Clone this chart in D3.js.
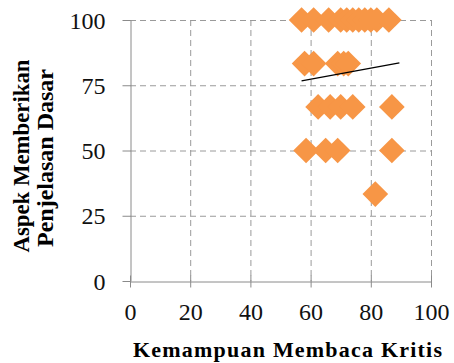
<!DOCTYPE html>
<html>
<head>
<meta charset="utf-8">
<script src="https://cdn.jsdelivr.net/npm/d3@7/dist/d3.min.js"></script>
<style>
  html, body { margin: 0; padding: 0; background: #fff; }
  svg { display: block; }
</style>
</head>
<body>
<svg id="chart" width="454" height="363"></svg>
<script>
// Scores: reading ability (x) vs. basic-explanation aspect (y)
const xValues = [57, 61, 66, 70, 72, 74, 76, 78, 80, 82, 86,
                 58, 61, 69, 71, 72.5,
                 62.5, 66.5, 70, 74, 87,
                 58.5, 65, 69, 87,
                 81.5];
const yValues = [100, 100, 100, 100, 100, 100, 100, 100, 100, 100, 100,
                 83.3, 83.3, 83.3, 83.3, 83.3,
                 66.7, 66.7, 66.7, 66.7, 66.7,
                 50, 50, 50, 50,
                 33.3];
const trendX = [57, 89.5];
const trendY = [76.7, 83.6];
const xTicks = [0, 20, 40, 60, 80, 100];
const yTicks = [0, 25, 50, 75, 100];
const xTitle = "Kemampuan Membaca Kritis";
const yTitle = ["Aspek Memberikan", "Penjelasan Dasar"];

const svg = d3.select("#chart");
const plotL = 130, plotR = 431, plotT = 20, plotB = 281;

const x = d3.scaleLinear().domain([0, 100]).range([plotL, plotR]);
const y = d3.scaleLinear().domain([0, 100]).range([plotB, plotT]);

const serif = "'Liberation Serif', 'Times New Roman', serif";

// dashed grid
const grid = svg.append("g").attr("stroke", "#9a9a9a").attr("stroke-width", 1)
  .attr("stroke-dasharray", "6,4");
grid.selectAll("line.v").data(xTicks.filter(d => d > 0)).join("line")
  .attr("x1", d => x(d) + 0.5).attr("x2", d => x(d) + 0.5)
  .attr("y1", plotT).attr("y2", plotB);
grid.selectAll("line.h").data(yTicks.filter(d => d > 0)).join("line")
  .attr("y1", d => y(d) + 0.5).attr("y2", d => y(d) + 0.5)
  .attr("x1", plotL).attr("x2", plotR);

// axes
const xAxis = svg.append("g").attr("transform", `translate(0,${plotB + 0.5})`)
  .call(d3.axisBottom(x).tickValues(xTicks).tickSizeInner(7).tickSizeOuter(0).tickPadding(14));
xAxis.selectAll(".tick line").attr("y1", -6).attr("y2", 6);
const yAxis = svg.append("g").attr("transform", `translate(${plotL + 0.5},0)`)
  .call(d3.axisLeft(y).tickValues(yTicks).tickSizeInner(8).tickSizeOuter(0).tickPadding(17));

[xAxis, yAxis].forEach(a => {
  a.select(".domain").attr("stroke", "#8a8a8a");
  a.selectAll(".tick line").attr("stroke", "#8a8a8a");
  a.selectAll(".tick text").attr("fill", "#111").style("font-family", serif).style("font-size", "24px");
});
xAxis.selectAll(".tick text").attr("dy", "0.71em");
yAxis.selectAll(".tick text").attr("dy", "0.34em");

// points
const pts = d3.range(xValues.length).map(i => ({ x: xValues[i], y: yValues[i] }));
const diamond = d3.symbol().type(d3.symbolSquare).size(330);
svg.append("g").selectAll("path").data(pts).join("path")
  .attr("d", diamond)
  .attr("transform", d => `translate(${x(d.x)},${y(d.y)}) rotate(45)`)
  .attr("fill", "#F79646");

// linear trend
svg.append("line")
  .attr("x1", x(trendX[0])).attr("y1", y(trendY[0]))
  .attr("x2", x(trendX[1])).attr("y2", y(trendY[1]))
  .attr("stroke", "#000").attr("stroke-width", 1.3);

// titles
svg.append("text")
  .attr("x", 133).attr("y", 357)
  .attr("textLength", 309).attr("lengthAdjust", "spacing")
  .style("font-family", serif).style("font-weight", "bold").style("font-size", "22px")
  .text(xTitle);

const yt = svg.append("text")
  .attr("transform", "translate(29,156) rotate(-90)")
  .attr("text-anchor", "middle")
  .style("font-family", serif).style("font-weight", "bold").style("font-size", "23px");
yt.selectAll("tspan").data(yTitle).join("tspan")
  .attr("x", (d, i) => i === 0 ? 0 : -2)
  .attr("y", (d, i) => i === 0 ? 0 : 24)
  .attr("textLength", (d, i) => i === 0 ? 193 : 178)
  .attr("lengthAdjust", "spacingAndGlyphs")
  .text(d => d);
</script>
</body>
</html>
